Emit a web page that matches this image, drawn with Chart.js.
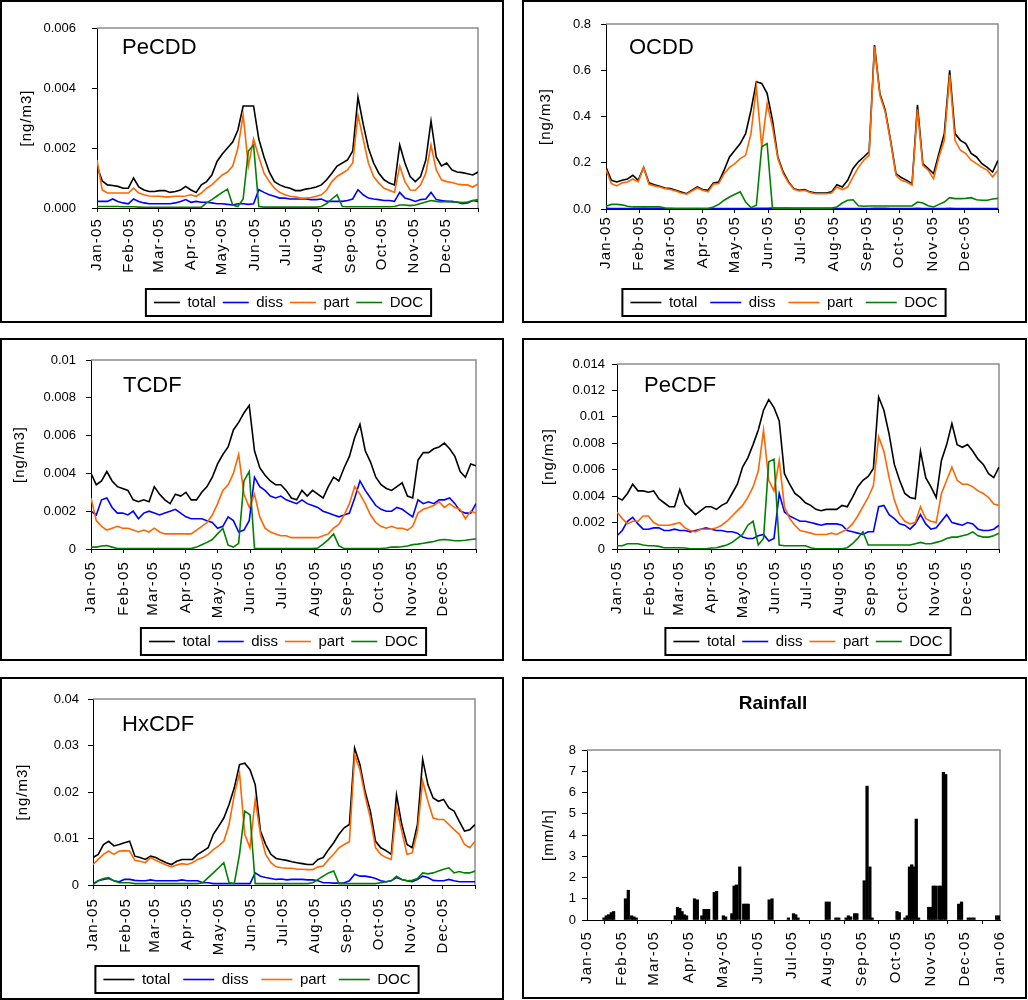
<!DOCTYPE html>
<html>
<head>
<meta charset="utf-8">
<script src="https://cdn.jsdelivr.net/npm/chart.js@4.4.1/dist/chart.umd.min.js"></script>
<style>
  body { margin: 0; background: #fff; width: 1028px; height: 1000px; overflow: hidden; position: relative; }
  .panel { position: absolute; border: 2px solid #000; box-sizing: border-box; background: #fff; }
  .panel canvas { position: absolute; left: 0; top: 0; }
</style>
</head>
<body>
<div class="panel" style="left:0;top:0;width:504px;height:323px"><canvas id="c1" width="500" height="319"></canvas></div>
<div class="panel" style="left:522px;top:0;width:505px;height:323px"><canvas id="c2" width="501" height="319"></canvas></div>
<div class="panel" style="left:0;top:338px;width:504px;height:323px"><canvas id="c3" width="500" height="319"></canvas></div>
<div class="panel" style="left:522px;top:338px;width:505px;height:323px"><canvas id="c4" width="501" height="319"></canvas></div>
<div class="panel" style="left:0;top:677px;width:504px;height:323px"><canvas id="c5" width="500" height="319"></canvas></div>
<div class="panel" style="left:522px;top:677px;width:505px;height:322px"><canvas id="c6" width="501" height="318"></canvas></div>
<script>
// ---- data ----
// day of year 2005, every 5 days
const days = [0, 5, 10, 15, 20, 25, 30, 35, 40, 45,
  50, 55, 60, 65, 70, 75, 80, 85, 90, 95,
  100, 105, 110, 115, 120, 125, 130, 135, 140, 145,
  150, 155, 160, 165, 170, 175, 180, 185, 190, 195,
  200, 205, 210, 215, 220, 225, 230, 235, 240, 245,
  250, 255, 260, 265, 270, 275, 280, 285, 290, 295,
  300, 305, 310, 315, 320, 325, 330, 335, 340, 345,
  350, 355, 360, 365];

const monthTicks = [0, 31, 59, 90, 120, 151, 181, 212, 243, 273, 304, 334, 365];
const monthLabels = ['Jan-05', 'Feb-05', 'Mar-05', 'Apr-05', 'May-05', 'Jun-05', 'Jul-05',
  'Aug-05', 'Sep-05', 'Oct-05', 'Nov-05', 'Dec-05', ''];
const rainMonthLabels = ['Jan-05', 'Feb-05', 'Mar-05', 'Apr-05', 'May-05', 'Jun-05', 'Jul-05',
  'Aug-05', 'Sep-05', 'Oct-05', 'Nov-05', 'Dec-05', 'Jan-06'];

const seriesNames = ['total', 'diss', 'part', 'DOC'];

// PeCDD
const pecddTicks = [0, 0.002, 0.004, 0.006];
const pecddTickLabels = ['0.000', '0.002', '0.004', '0.006'];
const pecddTotal = [0.0014, 0.0009, 0.00077, 0.00075, 0.00072, 0.00066, 0.00066, 0.001, 0.0007, 0.0006,
  0.00055, 0.00055, 0.00058, 0.00058, 0.00052, 0.00055, 0.0006, 0.00072, 0.0006, 0.00052,
  0.00077, 0.00088, 0.0011, 0.00155, 0.0018, 0.002, 0.0022, 0.0026, 0.0034, 0.0034,
  0.0034, 0.0023, 0.0017, 0.0012, 0.00088, 0.00077, 0.0007, 0.00066, 0.00058, 0.00058,
  0.00063, 0.00066, 0.0007, 0.00077, 0.00094, 0.00116, 0.0014, 0.0015, 0.0016, 0.0019,
  0.0037, 0.0028, 0.002, 0.0015, 0.00116, 0.00094, 0.00083, 0.00077, 0.0021, 0.0015,
  0.00105, 0.00088, 0.00105, 0.0016, 0.0029, 0.0017, 0.0014, 0.0015, 0.00127, 0.0012,
  0.00118, 0.00114, 0.0011, 0.0012];
const pecddDiss = [0.00022, 0.00022, 0.00022, 0.0003, 0.00022, 0.00017, 0.00014, 0.0003, 0.00022, 0.00017,
  0.00014, 0.00014, 0.00014, 0.00014, 0.00014, 0.00017, 0.00022, 0.00028, 0.00019, 0.00022,
  0.00019, 0.00019, 0.00017, 0.00014, 0.00014, 0.00012, 0.0001, 0.00014, 0.00014, 0.00012,
  0.00014, 0.00061, 0.00052, 0.00044, 0.00039, 0.00033, 0.00033, 0.0003, 0.0003, 0.0003,
  0.0003, 0.00028, 0.00028, 0.0003, 0.00022, 0.00022, 0.00022, 0.00022, 0.00025, 0.0003,
  0.00061, 0.00044, 0.00033, 0.0003, 0.00028, 0.00025, 0.00025, 0.00022, 0.00052, 0.00033,
  0.00028, 0.00022, 0.00028, 0.0003, 0.00052, 0.00028, 0.00025, 0.00022, 0.00022, 0.00019,
  0.00014, 0.00017, 0.00025, 0.00022];
const pecddPart = [0.0016, 0.0006, 0.0005, 0.0005, 0.0005, 0.0005, 0.0005, 0.00066, 0.0005, 0.00044,
  0.0004, 0.00039, 0.00039, 0.00037, 0.00037, 0.00039, 0.00039, 0.0004, 0.00044, 0.00039,
  0.0005, 0.00066, 0.00077, 0.00094, 0.0011, 0.0012, 0.0014, 0.002, 0.0031, 0.0014,
  0.0023, 0.0017, 0.00116, 0.00088, 0.00066, 0.00052, 0.00044, 0.00039, 0.00037, 0.00033,
  0.00033, 0.00035, 0.00039, 0.00044, 0.0006, 0.00088, 0.00105, 0.00116, 0.00127, 0.0015,
  0.0031, 0.0023, 0.0015, 0.00105, 0.00083, 0.00066, 0.00059, 0.00052, 0.0014, 0.00088,
  0.0006, 0.00059, 0.00077, 0.00116, 0.0021, 0.00127, 0.00094, 0.00088, 0.00085, 0.0008,
  0.00077, 0.00077, 0.0007, 0.0008];
const pecddDoc = [0.00005, 0.00005, 0.00005, 0.00005, 0.00005, 0.00004, 0.00004, 0.00004, 0.00003, 0.00002,
  0.00002, 0.00002, 0.00002, 0.00002, 0.00002, 0.00002, 0.00002, 0.00002, 0.00002, 0.00002,
  0.00003, 0.00017, 0.00028, 0.0004, 0.00052, 0.00063, 0.0001, 0.00005, 0.0003, 0.0019,
  0.0021, 0.00005, 0.00003, 0.00003, 0.00003, 0.00003, 0.00003, 0.00003, 0.00003, 0.00003,
  0.00003, 0.00003, 0.00003, 0.00005, 0.00015, 0.0003, 0.00044, 0.00005, 0.00004, 0.00004,
  0.00004, 0.00004, 0.00004, 0.00004, 0.00004, 0.00004, 0.00004, 0.00005, 0.0001, 0.0001,
  0.00008, 0.0001, 0.00015, 0.0002, 0.00025, 0.00022, 0.0002, 0.00022, 0.0002, 0.0002,
  0.00018, 0.0002, 0.00025, 0.00028];

// OCDD
const ocddTicks = [0, 0.2, 0.4, 0.6, 0.8];
const ocddTickLabels = ['0.0', '0.2', '0.4', '0.6', '0.8'];
const ocddTotal = [0.18, 0.124, 0.117, 0.124, 0.13, 0.146, 0.124, 0.18, 0.113, 0.105,
  0.098, 0.091, 0.088, 0.081, 0.074, 0.066, 0.081, 0.095, 0.084, 0.081,
  0.113, 0.117, 0.168, 0.225, 0.254, 0.283, 0.326, 0.427, 0.55, 0.543,
  0.5, 0.384, 0.225, 0.16, 0.117, 0.088, 0.081, 0.084, 0.074, 0.069,
  0.069, 0.069, 0.074, 0.105, 0.095, 0.124, 0.175, 0.204, 0.225, 0.247,
  0.709, 0.5, 0.427, 0.297, 0.153, 0.136, 0.124, 0.11, 0.45, 0.196,
  0.175, 0.153, 0.24, 0.326, 0.6, 0.326, 0.297, 0.283, 0.24, 0.225,
  0.196, 0.18, 0.16, 0.21];
const ocddDiss = [0.003, 0.002, 0.002, 0.002, 0.002, 0.002, 0.002, 0.003, 0.002, 0.002,
  0.002, 0.002, 0.002, 0.002, 0.002, 0.002, 0.002, 0.002, 0.002, 0.002,
  0.002, 0.002, 0.002, 0.002, 0.002, 0.002, 0.002, 0.002, 0.003, 0.003,
  0.003, 0.004, 0.003, 0.003, 0.003, 0.002, 0.002, 0.002, 0.002, 0.002,
  0.002, 0.002, 0.002, 0.002, 0.002, 0.002, 0.002, 0.002, 0.002, 0.002,
  0.003, 0.003, 0.003, 0.002, 0.002, 0.002, 0.002, 0.002, 0.003, 0.002,
  0.002, 0.002, 0.002, 0.002, 0.003, 0.002, 0.002, 0.002, 0.002, 0.002,
  0.002, 0.002, 0.002, 0.002];
const ocddPart = [0.17, 0.11, 0.1, 0.113, 0.117, 0.13, 0.117, 0.18, 0.107, 0.1,
  0.095, 0.088, 0.084, 0.078, 0.069, 0.064, 0.078, 0.091, 0.081, 0.074,
  0.107, 0.11, 0.153, 0.18, 0.196, 0.218, 0.232, 0.326, 0.528, 0.269,
  0.456, 0.355, 0.218, 0.153, 0.113, 0.085, 0.078, 0.081, 0.071, 0.066,
  0.066, 0.066, 0.069, 0.095, 0.084, 0.095, 0.139, 0.18, 0.211, 0.232,
  0.702, 0.492, 0.42, 0.29, 0.146, 0.124, 0.117, 0.103, 0.43, 0.189,
  0.168, 0.131, 0.225, 0.297, 0.58, 0.297, 0.254, 0.24, 0.211, 0.196,
  0.18, 0.168, 0.139, 0.168];
const ocddDoc = [0.012, 0.02, 0.02, 0.018, 0.012, 0.009, 0.009, 0.009, 0.009, 0.009,
  0.009, 0.004, 0.003, 0.002, 0.002, 0.002, 0.002, 0.002, 0.002, 0.002,
  0.009, 0.02, 0.038, 0.052, 0.064, 0.074, 0.03, 0.006, 0.016, 0.269,
  0.283, 0.003, 0.004, 0.004, 0.004, 0.004, 0.004, 0.004, 0.004, 0.004,
  0.004, 0.004, 0.004, 0.009, 0.026, 0.038, 0.04, 0.014, 0.012, 0.013,
  0.013, 0.013, 0.013, 0.013, 0.013, 0.013, 0.013, 0.013, 0.03, 0.026,
  0.014, 0.009, 0.02, 0.03, 0.049, 0.045, 0.045, 0.046, 0.049, 0.04,
  0.038, 0.038, 0.043, 0.046];

// TCDF
const tcdfTicks = [0, 0.002, 0.004, 0.006, 0.008, 0.01];
const tcdfTickLabels = ['0', '0.002', '0.004', '0.006', '0.008', '0.01'];
const tcdfTotal = [0.004, 0.0034, 0.0036, 0.0041, 0.0036, 0.0033, 0.0032, 0.0031, 0.0026, 0.0025,
  0.0026, 0.0025, 0.0033, 0.0029, 0.0026, 0.0024, 0.0029, 0.0028, 0.003, 0.0026,
  0.0026, 0.003, 0.0033, 0.0038, 0.0045, 0.005, 0.0054, 0.0063, 0.0067, 0.0072,
  0.0076, 0.0052, 0.0043, 0.0039, 0.0036, 0.0034, 0.0034, 0.0031, 0.0027, 0.0026,
  0.0031, 0.0028, 0.0031, 0.0029, 0.0027, 0.0033, 0.0038, 0.0036, 0.0043, 0.0049,
  0.0059, 0.0066, 0.0052, 0.0046, 0.0038, 0.0034, 0.0032, 0.0031, 0.0033, 0.0035,
  0.0028, 0.0027, 0.0047, 0.0051, 0.0051, 0.0053, 0.0054, 0.0056, 0.0053, 0.0049,
  0.0041, 0.0038, 0.0045, 0.0044];
const tcdfDiss = [0.002, 0.0018, 0.0026, 0.0027, 0.0022, 0.0019, 0.0019, 0.0018, 0.002, 0.0016,
  0.0019, 0.002, 0.0019, 0.0018, 0.0019, 0.002, 0.0021, 0.0019, 0.0017, 0.0016,
  0.0016, 0.0016, 0.0015, 0.0014, 0.0011, 0.0012, 0.0017, 0.0015, 0.0009, 0.001,
  0.0015, 0.0038, 0.0033, 0.0031, 0.0028, 0.0027, 0.0028, 0.0026, 0.0025, 0.0024,
  0.0026, 0.0024, 0.0023, 0.0022, 0.002, 0.0019, 0.0018, 0.0017, 0.0018, 0.0019,
  0.0027, 0.0036, 0.0031, 0.0027, 0.0023, 0.0021, 0.002, 0.002, 0.0022, 0.0021,
  0.0019, 0.0017, 0.0026, 0.0024, 0.0025, 0.0024, 0.0026, 0.0026, 0.0027, 0.0024,
  0.002, 0.0019, 0.0019, 0.0024];
const tcdfPart = [0.0027, 0.0015, 0.0012, 0.001, 0.0011, 0.0012, 0.0011, 0.0011, 0.001, 0.0009,
  0.001, 0.0009, 0.0011, 0.0009, 0.0008, 0.0008, 0.0008, 0.0008, 0.0008, 0.0008,
  0.001, 0.0012, 0.0014, 0.0018, 0.0024, 0.0031, 0.0034, 0.004, 0.005, 0.0029,
  0.0022, 0.0029, 0.0017, 0.0011, 0.0009, 0.0008, 0.0007, 0.0007, 0.0006, 0.0006,
  0.0006, 0.0006, 0.0006, 0.0006, 0.0007, 0.0008, 0.0011, 0.0013, 0.0018, 0.0024,
  0.0033, 0.0029, 0.0024, 0.0018, 0.0014, 0.0012, 0.0011, 0.0012, 0.0011, 0.0011,
  0.001, 0.0012, 0.0019, 0.0021, 0.0022, 0.0023, 0.0025, 0.0022, 0.0024, 0.0022,
  0.0021, 0.0016, 0.002, 0.0019];
const tcdfDoc = [0.0001, 0.0001, 0.00016, 0.00018, 0.0001, 0.00002, 0.00002, 0.00002, 0.00002, 0.00002,
  0.00002, 0.00002, 0.00002, 0.00002, 0.00002, 0.00002, 0.00002, 0.00002, 0.00002, 0.00002,
  0.0001, 0.00023, 0.00035, 0.0005, 0.0008, 0.0011, 0.0002, 0.0001, 0.0003, 0.0036,
  0.0041, 0.00002, 0.00002, 0.00002, 0.00002, 0.00002, 0.00002, 0.00002, 0.00002, 0.00002,
  0.00002, 0.00002, 0.00002, 0.00005, 0.00026, 0.0005, 0.0008, 0.00018, 0.00002, 0.00002,
  0.00002, 0.00002, 0.00002, 0.00002, 0.00002, 0.00002, 0.00005, 0.0001, 0.0001, 0.00012,
  0.00016, 0.00023, 0.00026, 0.0003, 0.00035, 0.0004, 0.00048, 0.0005, 0.00048, 0.00044,
  0.00044, 0.00046, 0.0005, 0.00053];

// PeCDF
const pecdfTicks = [0, 0.002, 0.004, 0.006, 0.008, 0.01, 0.012, 0.014];
const pecdfTickLabels = ['0', '0.002', '0.004', '0.006', '0.008', '0.01', '0.012', '0.014'];
const pecdfTotal = [0.0039, 0.0037, 0.0042, 0.0049, 0.0044, 0.0044, 0.0043, 0.0044, 0.0038, 0.0035,
  0.0032, 0.0032, 0.0045, 0.0034, 0.003, 0.0026, 0.0029, 0.0032, 0.0032, 0.003,
  0.0033, 0.0035, 0.0042, 0.0049, 0.0062, 0.0069, 0.0079, 0.009, 0.0105, 0.0113,
  0.0107, 0.0097, 0.0057, 0.0049, 0.0042, 0.0039, 0.0035, 0.0033, 0.003, 0.0029,
  0.003, 0.003, 0.003, 0.0033, 0.0032, 0.0039, 0.0047, 0.0052, 0.0055, 0.0061,
  0.0115, 0.0105, 0.0087, 0.0064, 0.0052, 0.0042, 0.0039, 0.0038, 0.0074, 0.0054,
  0.0047, 0.0039, 0.0067, 0.0079, 0.0095, 0.0079, 0.0077, 0.0079, 0.0074, 0.0068,
  0.0064, 0.0057, 0.0054, 0.0062];
const pecdfDiss = [0.001, 0.0014, 0.0021, 0.0024, 0.0019, 0.0015, 0.0015, 0.0016, 0.0016, 0.0014,
  0.0014, 0.0015, 0.0014, 0.0014, 0.0013, 0.0014, 0.0015, 0.0016, 0.0015, 0.0014,
  0.0014, 0.0013, 0.0013, 0.0012, 0.0009, 0.0008, 0.0008, 0.001, 0.0011, 0.0006,
  0.0008, 0.0042, 0.0028, 0.0025, 0.0023, 0.0021, 0.0021, 0.002, 0.0019, 0.0018,
  0.0019, 0.0019, 0.0019, 0.0018, 0.0014, 0.0013, 0.0012, 0.0011, 0.0013, 0.0013,
  0.0032, 0.0033, 0.0026, 0.0023, 0.0019, 0.0018, 0.0015, 0.0019, 0.0026, 0.0019,
  0.0015, 0.0016, 0.0021, 0.0026, 0.002, 0.0019, 0.0018, 0.002, 0.0019, 0.0015,
  0.0014, 0.0014, 0.0015, 0.0018];
const pecdfPart = [0.0028, 0.0023, 0.0019, 0.0021, 0.0021, 0.0025, 0.0025, 0.002, 0.0018, 0.0018,
  0.0018, 0.0019, 0.002, 0.0016, 0.0014, 0.0013, 0.0015, 0.0015, 0.0015, 0.0016,
  0.0018, 0.0021, 0.0025, 0.0029, 0.0033, 0.0039, 0.0047, 0.0059, 0.009, 0.0052,
  0.0044, 0.0067, 0.0032, 0.0023, 0.0018, 0.0014, 0.0013, 0.0012, 0.0011, 0.0011,
  0.0011, 0.0012, 0.0011, 0.0013, 0.0015, 0.0019, 0.0025, 0.0032, 0.0039, 0.0048,
  0.0085, 0.0074, 0.0054, 0.0037, 0.0026, 0.0021, 0.0019, 0.002, 0.0032, 0.0023,
  0.0021, 0.002, 0.0042, 0.0052, 0.0062, 0.0052, 0.0049, 0.0049, 0.0047, 0.0044,
  0.0042, 0.0039, 0.0034, 0.0033];
const pecdfDoc = [0.00025, 0.00025, 0.0004, 0.0004, 0.0004, 0.0003, 0.00025, 0.00025, 0.0002, 0.0001,
  0.0001, 0.0001, 0.0001, 0.00008, 0.00002, 0.00002, 0.00002, 0.00002, 0.00008, 0.0001,
  0.0002, 0.0003, 0.0005, 0.0008, 0.0011, 0.0018, 0.0021, 0.0003, 0.0008, 0.0066,
  0.0068, 0.0003, 0.00025, 0.00025, 0.00025, 0.00025, 0.00025, 0.0001, 0.00002, 0.00002,
  0.00002, 0.00002, 0.00002, 0.00002, 0.0001, 0.0004, 0.0008, 0.0013, 0.0003, 0.0003,
  0.0003, 0.0003, 0.0003, 0.0003, 0.0003, 0.0003, 0.0003, 0.0004, 0.0005, 0.0004,
  0.0004, 0.0005, 0.0006, 0.0008, 0.0009, 0.0009, 0.001, 0.0011, 0.0013, 0.001,
  0.0009, 0.0009, 0.001, 0.0012];

// HxCDF
const hxcdfTicks = [0, 0.01, 0.02, 0.03, 0.04];
const hxcdfTickLabels = ['0', '0.01', '0.02', '0.03', '0.04'];
const hxcdfTotal = [0.0059, 0.0066, 0.0087, 0.0094, 0.0084, 0.0087, 0.0091, 0.0094, 0.0062, 0.0059,
  0.0055, 0.0062, 0.0059, 0.0053, 0.0048, 0.0044, 0.0051, 0.0055, 0.0055, 0.0055,
  0.0066, 0.0073, 0.008, 0.0109, 0.0126, 0.0144, 0.0173, 0.0209, 0.0259, 0.0262,
  0.0248, 0.0216, 0.0116, 0.0087, 0.0066, 0.0057, 0.0055, 0.0053, 0.005, 0.0048,
  0.0046, 0.0044, 0.0044, 0.0055, 0.0059, 0.0076, 0.0091, 0.0109, 0.0123, 0.013,
  0.0294, 0.0259, 0.0201, 0.0159, 0.0094, 0.008, 0.0074, 0.0066, 0.0194, 0.013,
  0.0087, 0.008, 0.013, 0.027, 0.0216, 0.0187, 0.018, 0.0184, 0.0166, 0.0159,
  0.0137, 0.0116, 0.0119, 0.013];
const hxcdfDiss = [0.0003, 0.0009, 0.0012, 0.0014, 0.0009, 0.0007, 0.0012, 0.0012, 0.001, 0.0009,
  0.0009, 0.0011, 0.0009, 0.0009, 0.0009, 0.0009, 0.0009, 0.0011, 0.0009, 0.0009,
  0.0009, 0.0005, 0.0005, 0.0003, 0.0003, 0.0003, 0.0003, 0.0003, 0.0003, 0.0003,
  0.0003, 0.0026, 0.0019, 0.0016, 0.0014, 0.0012, 0.0013, 0.0011, 0.0012, 0.0012,
  0.0012, 0.0011, 0.0011, 0.0009, 0.0005, 0.0005, 0.0004, 0.0004, 0.0005, 0.0009,
  0.0023, 0.0019, 0.0019, 0.0017, 0.0014, 0.0009, 0.0007, 0.0009, 0.0016, 0.0012,
  0.0009, 0.0007, 0.0012, 0.0019, 0.0016, 0.001, 0.0009, 0.0009, 0.0012, 0.0009,
  0.0007, 0.0007, 0.0007, 0.0007];
const hxcdfPart = [0.0044, 0.0055, 0.0066, 0.0073, 0.0066, 0.0073, 0.0074, 0.0073, 0.0053, 0.0051,
  0.0048, 0.0059, 0.0053, 0.0048, 0.0043, 0.0039, 0.0043, 0.0046, 0.0044, 0.0048,
  0.0055, 0.0059, 0.0066, 0.0076, 0.0084, 0.0094, 0.013, 0.0194, 0.0241, 0.0109,
  0.008, 0.0184, 0.0109, 0.0066, 0.0048, 0.0039, 0.0037, 0.0036, 0.0036, 0.0034,
  0.0034, 0.0033, 0.0033, 0.0039, 0.0041, 0.0055, 0.0066, 0.008, 0.0087, 0.0093,
  0.028, 0.0248, 0.0191, 0.0144, 0.008, 0.0066, 0.0059, 0.0055, 0.0166, 0.0116,
  0.0066, 0.0069, 0.0116, 0.0223, 0.018, 0.0144, 0.0141, 0.0141, 0.013, 0.0119,
  0.0109, 0.0087, 0.008, 0.0094];
const hxcdfDoc = [0.0001, 0.0009, 0.0014, 0.0016, 0.0009, 0.0005, 0.0005, 0.0005, 0.0003, 0.0003,
  0.0003, 0.0003, 0.0003, 0.0003, 0.0003, 0.0003, 0.0003, 0.0003, 0.0003, 0.0003,
  0.0003, 0.0005, 0.0016, 0.0026, 0.0037, 0.0048, 0.0005, 0.0003, 0.0066, 0.0159,
  0.0151, 0.0003, 0.0003, 0.0003, 0.0003, 0.0003, 0.0003, 0.0003, 0.0003, 0.0003,
  0.0003, 0.0003, 0.0005, 0.0012, 0.0019, 0.0026, 0.003, 0.0003, 0.0003, 0.0003,
  0.0003, 0.0003, 0.0003, 0.0003, 0.0003, 0.0005, 0.0007, 0.0009, 0.0019, 0.0012,
  0.0009, 0.001, 0.0014, 0.0026, 0.0024, 0.0026, 0.003, 0.0034, 0.0037, 0.0026,
  0.0029, 0.0026, 0.0026, 0.003];

// Rainfall (mm/h)
const rainTicks = [0, 1, 2, 3, 4, 5, 6, 7, 8];
const rainTickLabels = ['0', '1', '2', '3', '4', '5', '6', '7', '8'];
const rainDays = [15, 17, 19, 21.5, 23.5, 34, 36.5, 39.5, 41.5, 43.5,
  78, 80, 82, 84, 86, 88, 95, 97.5, 101.5, 103.5, 105.5, 107.5, 112.5, 114.5, 120.5, 122.5,
  128, 130, 132, 135, 138.5, 140.5, 142.5,
  161, 163.5, 178, 182.5, 184.5, 186.5,
  211.5, 214, 220, 222.5, 229, 231, 233, 236.5, 238.5,
  245, 247.5, 250, 252,
  274, 276, 281, 283, 285, 287, 289, 291, 293,
  302, 304, 306, 308, 311, 313, 315, 317,
  328.5, 331, 337, 339.5, 342, 362, 364];
const rainValues = [0.1, 0.2, 0.25, 0.35, 0.4, 1.0, 1.4, 0.2, 0.15, 0.1,
  0.2, 0.6, 0.55, 0.4, 0.25, 0.2, 1.0, 0.95, 0.2, 0.5, 0.5, 0.5, 1.3, 1.35, 0.2, 0.15,
  0.3, 1.6, 1.65, 2.5, 0.75, 0.75, 0.75,
  0.95, 1.0, 0.1, 0.3, 0.25, 0.1,
  0.85, 0.85, 0.1, 0.1, 0.1, 0.2, 0.15, 0.3, 0.3,
  1.85, 6.3, 2.5, 0.1,
  0.4, 0.35, 0.1, 0.2, 2.5, 2.6, 2.5, 4.75, 0.1,
  0.6, 0.6, 1.6, 1.6, 1.6, 1.6, 6.95, 6.85,
  0.75, 0.85, 0.1, 0.1, 0.1, 0.2, 0.2];

// ---- look ----
const FONT = 'Arial, "Liberation Sans", sans-serif';
Chart.defaults.font.family = FONT;
Chart.defaults.color = '#000';
const colors = ['#000000', '#0000ff', '#ff6600', '#008000'];

// draw one of a scale's text parts with some letter spacing
function spaced(scale, method, spacing) {
  if (scale['_sp_' + method]) return;
  const orig = scale[method];
  scale[method] = function (...args) {
    const c = this.ctx;
    c.save();
    c.letterSpacing = spacing;
    orig.apply(this, args);
    c.restore();
  };
  scale['_sp_' + method] = true;
}

// plot area frame (grey top and right edge, like the spreadsheet plot area)
const plotFrame = {
  id: 'plotFrame',
  beforeDatasetsDraw(chart) {
    const { ctx, chartArea: a } = chart;
    ctx.save();
    ctx.strokeStyle = '#8c8c8c';
    ctx.lineWidth = 1.5;
    ctx.beginPath();
    ctx.moveTo(a.left, a.top);
    ctx.lineTo(a.right, a.top);
    ctx.lineTo(a.right, a.bottom);
    ctx.stroke();
    ctx.restore();
  }
};

// compound name written inside the plot
const panelName = {
  id: 'panelName',
  afterDraw(chart, args, opts) {
    if (!opts.text) return;
    const { ctx, chartArea: a } = chart;
    ctx.save();
    ctx.font = (opts.bold ? 'bold ' : '') + opts.size + 'px ' + FONT;
    ctx.fillStyle = '#000';
    ctx.textAlign = opts.align || 'left';
    ctx.textBaseline = 'middle';
    ctx.fillText(opts.text, a.left + opts.dx, a.top + opts.dy);
    ctx.restore();
  }
};

// move the legend sideways after layout
const legendShift = {
  id: 'legendShift',
  afterLayout(chart, args, opts) {
    const lg = chart.legend;
    if (lg && opts.dx) { lg.left += opts.dx; lg.right += opts.dx; }
  }
};

// black box around the legend
const legendFrame = {
  id: 'legendFrame',
  afterDraw(chart) {
    const lg = chart.legend;
    if (!lg || !lg.options.display || !lg.legendHitBoxes || !lg.legendHitBoxes.length) return;
    const hb = lg.legendHitBoxes;
    const l = Math.min(...hb.map(h => h.left)) - 8;
    const r = Math.max(...hb.map(h => h.left + h.width)) + 8;
    const t = hb[0].top - 6;
    const b = hb[0].top + hb[0].height + 6;
    const ctx = chart.ctx;
    ctx.save();
    ctx.strokeStyle = '#000';
    ctx.lineWidth = 2;
    ctx.strokeRect(l, t, r - l, b - t);
    ctx.restore();
  }
};

function xAxis(lay, labels) {
  return {
    type: 'linear', min: 0, max: 365,
    afterBuildTicks: s => { s.ticks = monthTicks.map(v => ({ value: v })); },
    afterFit: s => { s.height = lay.xH; spaced(s, 'drawLabels', '1.2px'); },
    ticks: {
      autoSkip: false, minRotation: 90, maxRotation: 90, padding: lay.xPad,
      font: { size: 15 }, color: '#000',
      callback: (v, i) => labels[i]
    },
    grid: { display: true, drawOnChartArea: false, drawTicks: true, tickLength: 4, color: '#000' },
    border: { display: true, color: '#000', width: 1 }
  };
}

function yAxis(lay, max, ticks, tickLabels, title) {
  return {
    min: 0, max: max,
    afterBuildTicks: s => { s.ticks = ticks.map(v => ({ value: v })); },
    afterFit: s => { s.width = lay.L; spaced(s, 'drawTitle', '1px'); },
    ticks: { padding: lay.yPad, font: { size: 13 }, color: '#000', callback: (v, i) => tickLabels[i] },
    grid: { display: true, drawOnChartArea: false, drawTicks: true, tickLength: 5, color: '#000' },
    border: { display: true, color: '#000', width: 1 },
    title: { display: true, text: title, font: { size: 15 }, color: '#000', padding: { top: lay.titlePad, bottom: 0 } }
  };
}

function seriesChart(id, lay, name, yTicks, yLabels, series) {
  const datasets = series.map((data, i) => ({
    label: seriesNames[i], data: data,
    borderColor: colors[i], backgroundColor: colors[i],
    borderWidth: 1.6, pointRadius: 0, tension: 0, fill: false,
    order: 3 - i
  }));
  return new Chart(document.getElementById(id), {
    type: 'line',
    data: { labels: days, datasets: datasets },
    options: {
      responsive: false, animation: false, events: [],
      layout: { padding: { left: 0, top: lay.T, right: lay.W - lay.R, bottom: lay.padB } },
      scales: {
        x: xAxis(lay, monthLabels),
        y: yAxis(lay, yTicks[yTicks.length - 1], yTicks, yLabels, '[ng/m3]')
      },
      plugins: {
        legend: {
          position: 'bottom', fullSize: false,
          labels: {
            usePointStyle: true, pointStyle: 'line', pointStyleWidth: lay.lineW,
            padding: lay.legPad, font: { size: 15 }, color: '#000',
            sort: (a, b) => a.datasetIndex - b.datasetIndex
          }
        },
        legendShift: { dx: lay.legDx },
        tooltip: { enabled: false },
        panelName: { text: name, dx: lay.nx, dy: lay.ny, size: 22 }
      }
    },
    plugins: [legendShift, plotFrame, panelName, legendFrame]
  });
}

// plot rectangles in canvas pixels
seriesChart('c1', { W: 500, L: 95, T: 26, R: 476, xH: 80, padB: 1, xPad: 6, yPad: 16, titlePad: 16,
  lineW: 26, legPad: 7, legDx: 1, nx: 25, ny: 20 },
  'PeCDD', pecddTicks, pecddTickLabels, [pecddTotal, pecddDiss, pecddPart, pecddDoc]);

seriesChart('c2', { W: 501, L: 82, T: 22, R: 474, xH: 73, padB: 1, xPad: 3, yPad: 10, titlePad: 13,
  lineW: 31, legPad: 13, legDx: -18, nx: 23, ny: 24 },
  'OCDD', ocddTicks, ocddTickLabels, [ocddTotal, ocddDiss, ocddPart, ocddDoc]);

seriesChart('c3', { W: 500, L: 89, T: 20, R: 477, xH: 78, padB: 0, xPad: 8, yPad: 10, titlePad: 9,
  lineW: 26, legPad: 7, legDx: 0, nx: 32, ny: 26 },
  'TCDF', tcdfTicks, tcdfTickLabels, [tcdfTotal, tcdfDiss, tcdfPart, tcdfDoc]);

seriesChart('c4', { W: 501, L: 93, T: 24, R: 478, xH: 78, padB: 0, xPad: 8, yPad: 7, titlePad: 16,
  lineW: 26, legPad: 7, legDx: 0, nx: 27, ny: 22 },
  'PeCDF', pecdfTicks, pecdfTickLabels, [pecdfTotal, pecdfDiss, pecdfPart, pecdfDoc]);

seriesChart('c5', { W: 500, L: 91, T: 20, R: 477, xH: 74, padB: 1, xPad: 9, yPad: 9, titlePad: 12,
  lineW: 31, legPad: 13, legDx: -27, nx: 29, ny: 26 },
  'HxCDF', hxcdfTicks, hxcdfTickLabels, [hxcdfTotal, hxcdfDiss, hxcdfPart, hxcdfDoc]);

// Rainfall bars
const rainLay = { W: 501, L: 63, T: 71, R: 479, xH: 77, padB: 0, xPad: 7, yPad: 6, titlePad: 16 };
new Chart(document.getElementById('c6'), {
  type: 'bar',
  data: {
    labels: rainDays,
    datasets: [{ label: 'Rainfall', data: rainValues, backgroundColor: '#000', borderWidth: 0, barThickness: 2.6 }]
  },
  options: {
    responsive: false, animation: false, events: [],
    layout: { padding: { left: 0, top: rainLay.T, right: rainLay.W - rainLay.R, bottom: rainLay.padB } },
    scales: {
      x: Object.assign(xAxis(rainLay, rainMonthLabels), { offset: false }),
      y: yAxis(rainLay, 8, rainTicks, rainTickLabels, '[mm/h]')
    },
    plugins: {
      legend: { display: false },
      tooltip: { enabled: false },
      panelName: { text: 'Rainfall', dx: 186, dy: -46, size: 19, bold: true, align: 'center' }
    }
  },
  plugins: [plotFrame, panelName, legendFrame]
});
</script>
</body>
</html>
